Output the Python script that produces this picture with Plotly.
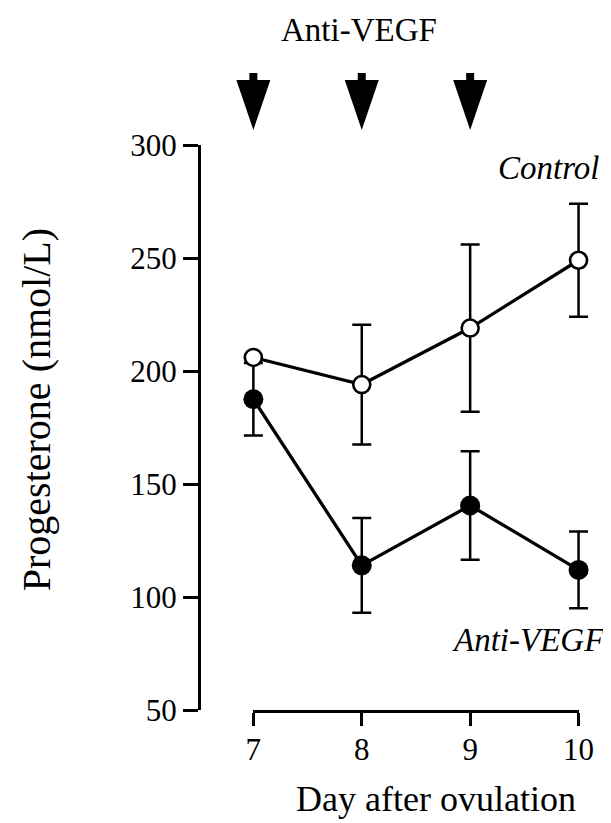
import plotly.graph_objects as go

# ---- data ----
days = [7, 8, 9, 10]
control_mean = [206, 194, 219, 249]
control_sem = [None, 26.5, 37, 25]   # day-7 bar hidden by its marker
anti_mean = [187.5, 114, 140.5, 112]
anti_sem = [16, 21, 24, 17]
injection_days = [7, 8, 9]
y_ticks = [50, 100, 150, 200, 250, 300]
x_title = "Day after ovulation"
y_title = "Progesterone (nmol/L)"
treatment_label = "Anti-VEGF"

# ---- layout geometry ----
W, H = 611, 823
L, R, T, B = 193, 11, 137, 121
x_range = [6.517, 10.124]
FONT = "Liberation Serif"


def dom(v):
    return (v - x_range[0]) / (x_range[1] - x_range[0])


fig = go.Figure()

err_style = dict(type="data", color="black", thickness=2.5, width=9.5)

fig.add_trace(go.Scatter(
    x=days, y=anti_mean, mode="lines+markers",
    line=dict(color="black", width=3.3),
    marker=dict(size=20, color="black"),
    error_y=dict(array=anti_sem, **err_style),
    cliponaxis=False, showlegend=False, name="Anti-VEGF"))

fig.add_trace(go.Scatter(
    x=days, y=control_mean, mode="lines+markers",
    line=dict(color="black", width=3.3),
    marker=dict(size=17, color="white", line=dict(color="black", width=2.6)),
    error_y=dict(array=control_sem, **err_style),
    cliponaxis=False, showlegend=False, name="Control"))

# helper trace so the detached x axis is drawn
fig.add_trace(go.Scatter(x=days, y=[None] * len(days), xaxis="x2", yaxis="y",
                         showlegend=False, hoverinfo="skip", mode="markers"))

# injection arrows
arrow_path = "M -4,72 L 4,72 L 4,65 L 17,65 L 0,15 L -17,65 L -4,65 Z"
for d in injection_days:
    fig.add_shape(type="path", xref="x", yref="paper",
                  xsizemode="pixel", xanchor=d,
                  ysizemode="pixel", yanchor=1,
                  path=arrow_path, fillcolor="black", line=dict(width=0))

tick_font = dict(family=FONT, size=31, color="black")
lab_font = dict(family=FONT, size=33, color="black")
xtitle_font = dict(family=FONT, size=36, color="black")
ytitle_font = dict(family=FONT, size=40, color="black")

fig.add_annotation(text=treatment_label, x=0.405, y=1.203, xref="paper", yref="paper",
                   showarrow=False, font=lab_font, xanchor="center", yanchor="middle")
fig.add_annotation(text="<i>Control</i>", x=0.889, y=0.959, xref="paper", yref="paper",
                   showarrow=False, font=lab_font, xanchor="center", yanchor="middle")
fig.add_annotation(text="<i>Anti-VEGF</i>", x=0.838, y=0.124, xref="paper", yref="paper",
                   showarrow=False, font=lab_font, xanchor="center", yanchor="middle")
fig.add_annotation(text=x_title, x=0.600, y=-0.158, xref="paper", yref="paper",
                   showarrow=False, font=xtitle_font, xanchor="center", yanchor="middle")
fig.add_annotation(text=y_title, x=-0.42, y=0.532, xref="paper", yref="paper",
                   showarrow=False, font=ytitle_font, textangle=-90,
                   xanchor="center", yanchor="middle")

fig.update_layout(
    width=W, height=H,
    margin=dict(l=L, r=R, t=T, b=B, pad=0),
    paper_bgcolor="white", plot_bgcolor="rgba(0,0,0,0)",
    xaxis=dict(range=x_range, visible=False, domain=[0, 1], fixedrange=True),
    xaxis2=dict(range=[7, 10], domain=[dom(7), dom(10)], anchor="y",
                showline=True, linecolor="black", linewidth=3,
                ticks="outside", ticklen=13, tickwidth=3, tickcolor="black",
                tickvals=days, ticktext=[str(d) for d in days], tickfont=tick_font,
                ticklabelstandoff=-3,
                showgrid=False, zeroline=False),
    yaxis=dict(range=[50, 300], anchor="x", domain=[0, 1],
               showline=True, linecolor="black", linewidth=3,
               ticks="outside", ticklen=15, tickwidth=3, tickcolor="black",
               tickvals=y_ticks, tickfont=tick_font, ticklabelstandoff=0,
               showgrid=False, zeroline=False),
)

fig.write_html("out.html")
